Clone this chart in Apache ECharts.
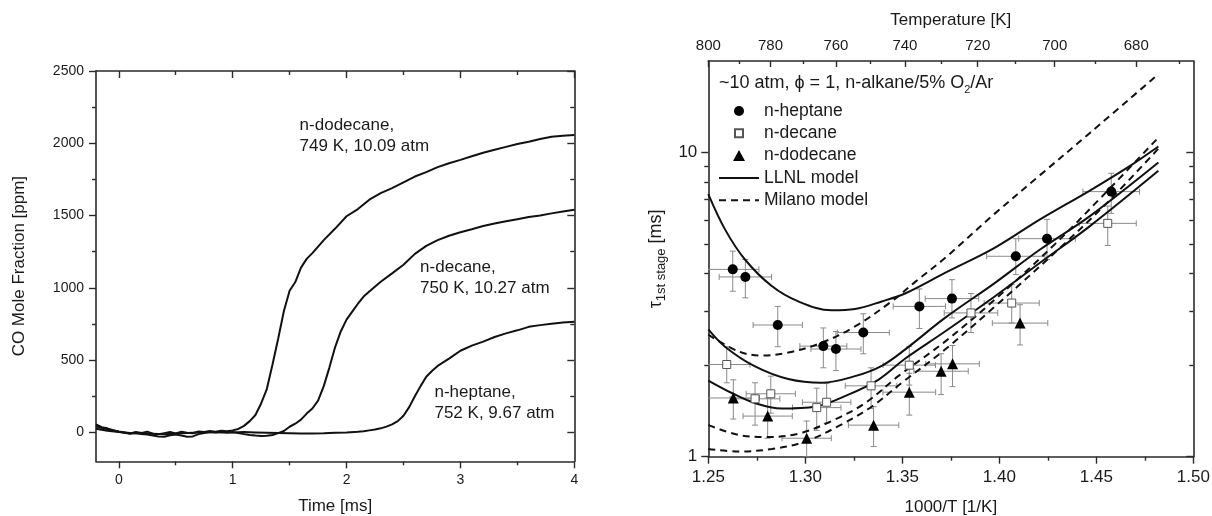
<!DOCTYPE html>
<html><head><meta charset="utf-8">
<script src="https://cdn.jsdelivr.net/npm/echarts@6/dist/echarts.min.js"></script>
<style>html,body{margin:0;padding:0;background:#fff}#c{width:1212px;height:516px}</style>
</head><body><div id="c"></div>
<script>
// ================= LEFT PANEL: CO mole fraction traces =================
const timeTicks = [0, 1, 2, 3, 4];
const timeMinorTicks = [0.5, 1.5, 2.5, 3.5];
const coTicks = [0, 500, 1000, 1500, 2000, 2500];
const coMinorTicks = [250, 750, 1250, 1750, 2250];

const tDodecane = [-0.2,-0.15,-0.1,-0.05,0,0.05,0.1,0.15,0.2,0.25,0.3,0.35,0.4,0.45,0.5,0.55,0.6,0.65,0.7,0.75,0.8,0.85,0.9,0.95,1.0,1.05,1.1,1.15,1.2,1.25,1.3,1.35,1.4,1.45,1.5,1.55,1.6,1.65,1.7,1.8,1.9,2.0,2.1,2.2,2.3,2.4,2.5,2.6,2.7,2.8,2.9,3.0,3.1,3.2,3.3,3.4,3.5,3.6,3.7,3.8,3.9,4.0];
const coDodecane = [42,30,22,14,6,0,-7,3,-4,5,-9,-12,-5,2,-7,4,-2,-6,6,2,9,5,11,8,14,24,45,78,120,200,300,470,650,840,980,1040,1140,1200,1240,1330,1410,1495,1545,1610,1655,1690,1730,1770,1800,1835,1862,1885,1910,1935,1955,1975,1995,2010,2030,2045,2052,2058];

const tDecane = [-0.2,-0.15,-0.1,-0.05,0,0.05,0.1,0.15,0.2,0.25,0.3,0.35,0.4,0.45,0.5,0.55,0.6,0.65,0.7,0.75,0.8,0.85,0.9,0.95,1.0,1.05,1.1,1.15,1.2,1.25,1.3,1.35,1.4,1.45,1.5,1.55,1.6,1.65,1.7,1.75,1.8,1.85,1.9,1.95,2.0,2.05,2.1,2.15,2.2,2.3,2.4,2.5,2.6,2.7,2.8,2.9,3.0,3.1,3.2,3.3,3.4,3.5,3.6,3.7,3.8,3.9,4.0];
const coDecane = [55,36,28,15,5,-3,-10,-5,-12,-15,-22,-28,-30,-20,-15,-22,-30,-28,-12,-5,2,-1,5,0,3,-5,-12,-18,-22,-25,-24,-18,-5,10,39,60,88,130,165,220,320,450,590,700,780,835,890,940,975,1042,1100,1160,1235,1290,1330,1360,1385,1405,1428,1445,1460,1475,1490,1500,1515,1528,1540];

const tHeptane = [-0.2,-0.1,0,0.1,0.2,0.3,0.4,0.5,0.6,0.7,0.8,0.9,1.0,1.1,1.2,1.3,1.4,1.5,1.6,1.7,1.8,1.9,2.0,2.1,2.15,2.2,2.25,2.3,2.35,2.4,2.45,2.5,2.55,2.6,2.65,2.7,2.75,2.8,2.9,3.0,3.1,3.2,3.3,3.4,3.5,3.6,3.7,3.8,3.9,4.0];
const coHeptane = [25,12,2,-5,-8,-10,-13,-8,-5,0,2,-1,0,2,0,-2,-4,-6,-8,-8,-6,-3,0,4,8,14,20,28,40,55,78,115,175,250,320,385,425,460,510,565,600,628,660,685,706,730,742,752,760,766];

const annoText = ['n-dodecane,\n749 K, 10.09 atm', 'n-decane,\n750 K, 10.27 atm', 'n-heptane,\n752 K, 9.67 atm'];
const annoTime = [1.588, 2.646, 2.772];
const annoCO = [2053, 1070, 203];

// ================= RIGHT PANEL: first-stage ignition delay =================
const invTTicks = [1.25, 1.30, 1.35, 1.40, 1.45, 1.50];
const invTMinorTicks = [1.275, 1.325, 1.375, 1.425, 1.475];
const tempTicks = [800, 780, 760, 740, 720, 700, 680];
const tempMinorTicks = [790, 770, 750, 730, 710, 690, 670];
const tauTicks = [1, 10];
const tauMinorTicks = [2, 3, 4, 5, 6, 7, 8, 9];

const heptaneX = [1.2626,1.2691,1.2858,1.3093,1.3158,1.3299,1.3588,1.3756,1.4085,1.4246,1.4577];
const heptaneTau = [4.13,3.90,2.71,2.31,2.26,2.56,3.12,3.31,4.56,5.21,7.44];
const heptaneXErr = [0.0135,0.0135,0.0127,0.0121,0.0129,0.0134,0.0135,0.0138,0.0150,0.0146,0.0146];
const heptaneTauLo = [3.50,3.33,2.30,1.96,1.92,2.18,2.64,2.86,3.97,4.45,6.31];
const heptaneTauHi = [4.74,4.45,3.12,2.65,2.58,2.95,3.56,3.82,5.21,6.03,8.55];

const decaneX = [1.2595,1.2741,1.2822,1.3059,1.3110,1.3339,1.3536,1.3854,1.4064,1.4559];
const decaneTau = [2.01,1.55,1.61,1.45,1.51,1.71,2.00,2.97,3.20,5.85];
const decaneXErr = [0.0120,0.0128,0.0127,0.0125,0.0125,0.0133,0.0135,0.0138,0.0142,0.0147];
const decaneTauLo = [1.75,1.27,1.39,1.22,1.29,1.44,1.72,2.56,2.75,4.95];
const decaneTauHi = [2.30,1.75,1.84,1.68,1.74,1.96,2.30,3.44,3.68,6.67];

const dodecaneX = [1.2629,1.2806,1.3007,1.3352,1.3536,1.3700,1.3759,1.4107];
const dodecaneTau = [1.56,1.36,1.15,1.27,1.63,1.91,2.02,2.75];
const dodecaneXErr = [0.0135,0.0127,0.0127,0.0130,0.0136,0.0140,0.0138,0.0143];
const dodecaneTauLo = [1.33,1.15,1.00,1.08,1.37,1.60,1.70,2.33];
const dodecaneTauHi = [1.79,1.56,1.31,1.46,1.88,2.18,2.32,3.16];

const llnlHeptaneX = [1.25,1.2586,1.2689,1.2827,1.2964,1.3136,1.3256,1.3394,1.3514,1.372,1.3978,1.421,1.4467,1.4674,1.482];
const llnlHeptaneTau = [7.3,5.59,4.45,3.64,3.24,3.03,3.06,3.24,3.44,4.02,4.87,6.03,7.5,9.04,10.47];
const llnlDecaneX = [1.25,1.2586,1.2741,1.2912,1.3085,1.3256,1.3394,1.3514,1.372,1.3978,1.421,1.4467,1.482];
const llnlDecaneTau = [2.62,2.30,1.98,1.80,1.75,1.84,1.99,2.25,2.86,3.73,4.80,6.18,9.27];
const llnlDodecaneX = [1.25,1.2621,1.2741,1.2878,1.305,1.3222,1.3376,1.3514,1.372,1.3978,1.421,1.4467,1.482];
const llnlDodecaneTau = [1.78,1.62,1.50,1.44,1.46,1.60,1.79,2.10,2.58,3.37,4.34,5.73,8.71];

const milanoHeptaneX = [1.25,1.2655,1.2775,1.2912,1.3085,1.3256,1.3445,1.3565,1.372,1.3978,1.421,1.4467,1.482];
const milanoHeptaneTau = [2.52,2.22,2.15,2.20,2.37,2.68,3.24,3.75,4.50,6.31,8.43,11.6,18.1];
const milanoDecaneX = [1.25,1.2655,1.2792,1.2964,1.3136,1.3308,1.3479,1.372,1.3978,1.4287,1.455,1.482];
const milanoDecaneTau = [1.27,1.18,1.16,1.19,1.31,1.50,1.84,2.39,3.29,5.0,7.4,11.2];
const milanoDodecaneX = [1.25,1.2655,1.2827,1.2998,1.317,1.3342,1.3497,1.372,1.3978,1.4287,1.455,1.482];
const milanoDodecaneTau = [1.06,1.04,1.06,1.12,1.26,1.46,1.75,2.25,3.12,4.69,6.78,10.3];

// ================= chart =================
const FONT = "'Liberation Sans', Arial, Helvetica, sans-serif";
const INK = '#1a1a1a';
const AXLINE = {color: '#2a2a2a', width: 1.6};
const zip = (a, b) => a.map((v, i) => [v, b[i]]);

function tick(values, len, inside) {
  return {show: true, customValues: values, length: len, inside: inside, lineStyle: {color: '#2a2a2a', width: 1.4}};
}
function ax(o) {
  return Object.assign({
    type: 'value', splitLine: {show: false},
    axisLine: {show: false, onZero: false, lineStyle: AXLINE},
    axisTick: {show: false}, axisLabel: {show: false}
  }, o);
}
const lineOn = {show: true, onZero: false, lineStyle: AXLINE};
const lab = (vals, size, margin, fmt) => ({show: true, customValues: vals, fontSize: size, margin: margin, color: INK, fontFamily: FONT, formatter: fmt});
const nameStyle = {fontSize: 17, color: INK, fontFamily: FONT};

const xAxis = [
  // left panel
  ax({gridIndex: 0, position: 'bottom', min: -0.2, max: 4, axisLine: lineOn, axisTick: tick(timeTicks, 7, false),
      axisLabel: lab(timeTicks, 14, 12, v => String(v)),
      name: 'Time [ms]', nameLocation: 'middle', nameGap: 37, nameTextStyle: nameStyle}),
  ax({gridIndex: 0, position: 'bottom', min: -0.2, max: 4, axisTick: tick(timeMinorTicks, 4, false)}),
  ax({gridIndex: 0, position: 'top', min: -0.2, max: 4, axisLine: lineOn, axisTick: tick(timeTicks, 7, true)}),
  ax({gridIndex: 0, position: 'top', min: -0.2, max: 4, axisTick: tick(timeMinorTicks, 4, true)}),
  // right panel
  ax({gridIndex: 1, position: 'bottom', min: 1.25, max: 1.5, axisLine: lineOn, axisTick: tick(invTTicks, 7, false),
      axisLabel: lab(invTTicks, 17, 12, v => v.toFixed(2)),
      name: '1000/T [1/K]', nameLocation: 'middle', nameGap: 42, nameTextStyle: nameStyle}),
  ax({gridIndex: 1, position: 'bottom', min: 1.25, max: 1.5, axisTick: tick(invTMinorTicks, 4, false)}),
  ax({gridIndex: 1, position: 'top', min: 1.25, max: 1.5, axisLine: lineOn,
      axisTick: tick(tempTicks.map(T => 1000 / T), 6, true),
      axisLabel: lab(tempTicks.map(T => 1000 / T), 15, 8, v => String(Math.round(1000 / v))),
      name: 'Temperature [K]', nameLocation: 'middle', nameGap: 32, nameTextStyle: nameStyle}),
  ax({gridIndex: 1, position: 'top', min: 1.25, max: 1.5, axisTick: tick(tempMinorTicks.map(T => 1000 / T), 3, true)})
];

const yAxis = [
  // left panel
  ax({gridIndex: 0, position: 'left', min: -200, max: 2500, axisLine: lineOn, axisTick: tick(coTicks, 7, false),
      axisLabel: lab(coTicks, 14, 12, v => String(v)),
      name: 'CO Mole Fraction [ppm]', nameLocation: 'middle', nameGap: 68, nameTextStyle: nameStyle}),
  ax({gridIndex: 0, position: 'left', min: -200, max: 2500, axisTick: tick(coMinorTicks, 4, false)}),
  ax({gridIndex: 0, position: 'right', min: -200, max: 2500, axisLine: lineOn, axisTick: tick(coTicks, 7, true)}),
  ax({gridIndex: 0, position: 'right', min: -200, max: 2500, axisTick: tick(coMinorTicks, 4, true)}),
  // right panel (log)
  ax({gridIndex: 1, type: 'log', logBase: 10, position: 'left', min: 1, max: 20, axisLine: lineOn, axisTick: tick(tauTicks, 7, false),
      axisLabel: lab(tauTicks, 17, 11, v => String(v)),
      name: '{t|τ}{s|1st stage}{t| [ms]}', nameLocation: 'middle', nameGap: 40,
      nameTextStyle: {rich: {
        t: {fontSize: 18, lineHeight: 24, color: INK, fontFamily: FONT},
        s: {fontSize: 13, lineHeight: 14, verticalAlign: 'bottom', color: INK, fontFamily: FONT}
      }}}),
  ax({gridIndex: 1, type: 'log', logBase: 10, position: 'left', min: 1, max: 20, axisTick: tick(tauMinorTicks, 4, false)}),
  ax({gridIndex: 1, type: 'log', logBase: 10, position: 'right', min: 1, max: 20, axisLine: lineOn, axisTick: tick(tauTicks, 7, true)}),
  ax({gridIndex: 1, type: 'log', logBase: 10, position: 'right', min: 1, max: 20, axisTick: tick(tauMinorTicks, 4, true)})
];

function trace(name, t, v) {
  return {type: 'line', name: name, xAxisIndex: 0, yAxisIndex: 0, symbol: 'none', silent: true,
    lineStyle: {color: '#111', width: 2}, data: zip(t, v), z: 2};
}
function model(name, xs, ys, dashed) {
  return {type: 'line', name: name, xAxisIndex: 4, yAxisIndex: 4, symbol: 'none', smooth: 0.35, silent: true,
    lineStyle: {color: '#111', width: 2, type: dashed ? [7, 5] : 'solid'}, itemStyle: {color: '#111', opacity: 0},
    data: zip(xs, ys), z: 3};
}
function errorBars(name, xs, ys, xe, lo, hi) {
  return {
    type: 'custom', name: name, xAxisIndex: 4, yAxisIndex: 4, z: 1, silent: true, clip: true,
    data: xs.map((x, i) => [x, ys[i], x - xe[i], x + xe[i], lo[i], hi[i]]),
    encode: {x: 0, y: 1},
    renderItem: function (params, api) {
      const x = api.value(0), y = api.value(1);
      const l = api.coord([api.value(2), y]), r = api.coord([api.value(3), y]);
      const b = api.coord([x, api.value(4)]), t = api.coord([x, api.value(5)]);
      const c = 3, st = {stroke: '#8a8a8a', lineWidth: 1};
      const seg = (x1, y1, x2, y2) => ({type: 'line', shape: {x1: x1, y1: y1, x2: x2, y2: y2}, style: st});
      return {type: 'group', children: [
        seg(l[0], l[1], r[0], r[1]), seg(l[0], l[1] - c, l[0], l[1] + c), seg(r[0], r[1] - c, r[0], r[1] + c),
        seg(b[0], b[1], t[0], t[1]), seg(b[0] - c, b[1], b[0] + c, b[1]), seg(t[0] - c, t[1], t[0] + c, t[1])
      ]};
    }
  };
}
function points(name, xs, ys, symbol, size, itemStyle) {
  return {type: 'scatter', name: name, xAxisIndex: 4, yAxisIndex: 4, symbol: symbol, symbolSize: size,
    itemStyle: Object.assign({opacity: 1}, itemStyle), data: zip(xs, ys), z: 5, silent: true};
}

const option = {
  animation: false,
  backgroundColor: '#fff',
  textStyle: {fontFamily: FONT},
  grid: [
    {left: 96, top: 71, right: 637.7, bottom: 54.7, outerBoundsMode: 'none'},
    {left: 708.3, top: 61, right: 18.7, bottom: 59.3, outerBoundsMode: 'none'}
  ],
  title: {
    text: '~10 atm, ϕ = 1, n-alkane/5% O{sub|2}/Ar', left: 719, top: 71, padding: 0,
    textStyle: {fontSize: 18, fontWeight: 'normal', color: INK, fontFamily: FONT, lineHeight: 24,
      rich: {sub: {fontSize: 11, lineHeight: 12, verticalAlign: 'bottom', color: INK, fontFamily: FONT}}}
  },
  legend: {
    orient: 'vertical', left: 718, top: 102, padding: 0,
    itemWidth: 40, itemHeight: 12, itemGap: 4.3, selectedMode: false,
    textStyle: {fontSize: 17.5, color: INK, fontFamily: FONT, lineHeight: 18},
    data: [
      {name: 'n-heptane', icon: 'path://M0,0M12,12M1,6a5,5 0 1,0 10,0a5,5 0 1,0 -10,0z'},
      {name: 'n-decane', icon: 'path://M0,0M12,12M2,2L10,2L10,10L2,10Z'},
      {name: 'n-dodecane', icon: 'path://M0,0M12,12M6,0.5L12,11.5L0,11.5Z'},
      {name: 'LLNL model', itemStyle: {opacity: 0}},
      {name: 'Milano model', itemStyle: {opacity: 0}}
    ]
  },
  xAxis: xAxis,
  yAxis: yAxis,
  series: [
    trace('dodecane trace', tDodecane, coDodecane),
    trace('decane trace', tDecane, coDecane),
    trace('heptane trace', tHeptane, coHeptane),
    {type: 'scatter', name: 'annotations', xAxisIndex: 0, yAxisIndex: 0, symbolSize: 0, silent: true,
      itemStyle: {opacity: 1},
      data: annoText.map((s, i) => ({name: s, value: [annoTime[i], annoCO[i]]})),
      label: {show: true, position: 'right', distance: 0, formatter: p => p.name, fontSize: 17, lineHeight: 21,
        color: INK, opacity: 1, fontFamily: FONT, align: 'left', verticalAlign: 'middle'}},
    errorBars('heptane err', heptaneX, heptaneTau, heptaneXErr, heptaneTauLo, heptaneTauHi),
    errorBars('decane err', decaneX, decaneTau, decaneXErr, decaneTauLo, decaneTauHi),
    errorBars('dodecane err', dodecaneX, dodecaneTau, dodecaneXErr, dodecaneTauLo, dodecaneTauHi),
    model('LLNL model', llnlHeptaneX, llnlHeptaneTau, false),
    model('LLNL model', llnlDecaneX, llnlDecaneTau, false),
    model('LLNL model', llnlDodecaneX, llnlDodecaneTau, false),
    model('Milano model', milanoHeptaneX, milanoHeptaneTau, true),
    model('Milano model', milanoDecaneX, milanoDecaneTau, true),
    model('Milano model', milanoDodecaneX, milanoDodecaneTau, true),
    points('n-heptane', heptaneX, heptaneTau, 'circle', 10, {color: '#000'}),
    points('n-decane', decaneX, decaneTau, 'rect', 8, {color: '#fff', borderColor: '#555', borderWidth: 1}),
    points('n-dodecane', dodecaneX, dodecaneTau, 'triangle', 11, {color: '#000'})
  ]
};
const chart = echarts.init(document.getElementById('c'), null, {renderer: 'canvas'});
chart.setOption(option);
</script>
</body></html>
